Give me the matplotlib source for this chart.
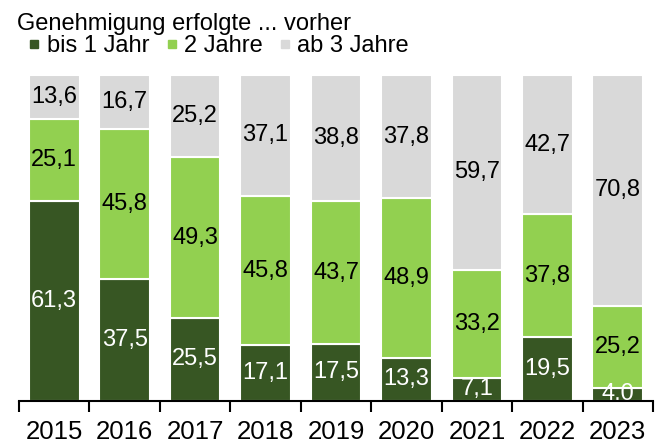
import matplotlib
matplotlib.use("Agg")
import matplotlib.pyplot as plt
from matplotlib.lines import Line2D
import numpy as np

plt.rcParams['font.family'] = ['Liberation Sans', 'DejaVu Sans']

years = ["2015", "2016", "2017", "2018", "2019", "2020", "2021", "2022", "2023"]
bis1 = [61.3, 37.5, 25.5, 17.1, 17.5, 13.3, 7.1, 19.5, 4.0]
jahre2 = [25.1, 45.8, 49.3, 45.8, 43.7, 48.9, 33.2, 37.8, 25.2]
ab3 = [13.6, 16.7, 25.2, 37.1, 38.8, 37.8, 59.7, 42.7, 70.8]
series_names = ["bis 1 Jahr", "2 Jahre", "ab 3 Jahre"]
legend_title = "Genehmigung erfolgte ... vorher"

colors = ["#375623", "#92D050", "#D9D9D9"]
text_colors = ["white", "black", "black"]

W, H = 664, 445
fig = plt.figure(figsize=(W / 100, H / 100), dpi=100)
ax = fig.add_axes([19 / W, (H - 401) / H, (653 - 19) / W, (401 - 75) / H])

x = np.arange(len(years))
bottom = np.zeros(len(years))
for vals, col, tcol in zip([bis1, jahre2, ab3], colors, text_colors):
    vals = np.array(vals)
    ax.bar(x, vals, bottom=bottom, width=0.72, color=col, edgecolor="white",
           linewidth=1.5, zorder=2)
    for xi, b, v in zip(x, bottom, vals):
        ax.text(xi, b + v / 2, f"{v:.1f}".replace(".", ","), ha="center",
                va="center", fontsize=17, color=tcol, zorder=3)
    bottom += vals

ax.set_xlim(-0.5, len(years) - 0.5)
ax.set_ylim(0, 100)
for s in ["top", "right", "left"]:
    ax.spines[s].set_visible(False)
ax.spines["bottom"].set_linewidth(1.5)
ax.spines["bottom"].set_zorder(4)
ax.set_yticks([])
ax.set_xticks(x)
ax.set_xticklabels(years, fontsize=18.5)
ax.tick_params(axis="x", which="major", length=0, pad=14)
ax.set_xticks(np.arange(-0.5, len(years)), minor=True)
ax.tick_params(axis="x", which="minor", length=8, width=1.5, direction="out")

fig.text(17 / W, 1 - 30 / H, legend_title, fontsize=17, ha="left", va="baseline")

handles = [Line2D([0], [0], marker="s", linestyle="none", markersize=6,
                  markerfacecolor=c, markeredgecolor=c) for c in colors]
leg = fig.legend(handles, series_names, ncol=3,
                 loc="upper left", bbox_to_anchor=(29 / W, 1 - 35 / H),
                 frameon=False, fontsize=17,
                 handlelength=0.45, handletextpad=0.3,
                 columnspacing=0.72, borderpad=0, borderaxespad=0)

fig.savefig("out.png", dpi=100)
